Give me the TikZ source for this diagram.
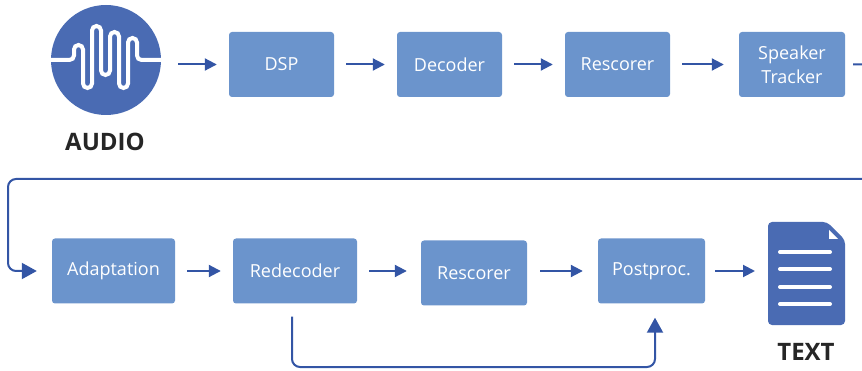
\documentclass[tikz,border=0pt]{standalone}
\usepackage{fontspec}
\setmainfont{Open Sans}
\usetikzlibrary{arrows.meta}
\definecolor{stagefill}{RGB}{107,148,204}
\definecolor{flowblue}{RGB}{51,85,165}
\definecolor{iconblue}{RGB}{74,107,179}
\begin{document}
\begin{tikzpicture}[x=1pt, y=-1pt,
  stage/.style={fill=stagefill, rounded corners=3pt, text=white, inner sep=0pt,
    minimum height=65pt, align=center, font=\fontsize{18}{24}\selectfont},
  flow/.style={draw=flowblue, line width=2pt, -{Triangle[length=12pt,width=12pt]},
    shorten <=12pt, shorten >=12pt},
  back/.style={draw=flowblue, line width=2pt, rounded corners=8pt,
    -{Triangle[length=15pt,width=16pt]}},
  biglabel/.style={font=\fontsize{24}{28}\selectfont\bfseries, text=black!85}]
\useasboundingbox (0,0) rectangle (862,371);
% audio icon
\node [circle, fill=iconblue, minimum size=110pt, inner sep=0pt] (audio) at (106,60) {};
\begin{scope}
\clip (106,60) circle (55pt);
\draw [white, line width=4pt, rounded corners=4.5pt] (40,60) -- (74,60) -- (74,45) -- (83,45)
  -- (83,88) -- (92,88) -- (92,26) -- (101,26) -- (101,75) -- (110,75) -- (110,32)
  -- (119,32) -- (119,88) -- (128,88) -- (128,38) -- (137,38) -- (137,60) -- (175,60);
\end{scope}
\node [biglabel] (audiolbl) at (105,142) {AUDIO};
% first row
\node [stage, minimum width=105pt] (dsp) at (281.5,64.5) {DSP};
\node [stage, minimum width=105pt] (dec) at (449.5,64.5) {Decoder};
\node [stage, minimum width=105pt] (rsc1) at (617.5,64.5) {Rescorer};
\node [stage, minimum width=106pt] (spk) at (792,64.5) {Speaker\\Tracker};
\draw [flow, shorten <=17pt] (audio.east |- dsp.west) -- (dsp.west);
\draw [flow] (dsp) -- (dec);
\draw [flow] (dec) -- (rsc1);
\draw [flow, shorten >=15pt] (rsc1) -- (spk);
% second row
\node [stage, minimum width=123pt] (adapt) at (113.5,271) {Adaptation};
\node [stage, minimum width=124pt] (redec) at (295,271) {Redecoder};
\node [stage, minimum width=106pt] (rsc2) at (474,273) {Rescorer};
\node [stage, minimum width=107pt] (post) at (651.5,271) {Postproc.};
\draw [flow] (adapt) -- (redec);
\draw [flow, shorten >=14pt] (redec.east) -- (redec.east -| rsc2.west);
\draw [flow, shorten <=13pt, shorten >=15pt] (rsc2.east |- post.west) -- (post.west);
% text icon
\fill [iconblue, rounded corners=4pt] (768,222) -- (827,222) -- (845,240) -- (845,325)
  -- (768,325) -- cycle;
\fill [white] (829,230) -- (829,239) -- (838,239) -- cycle;
\foreach \y in {252,269,287,304}
  \draw [white, line width=4pt, line cap=round] (780,\y) -- (830,\y);
\coordinate (doc) at (768,271);
\node [biglabel] (textlbl) at (806,352) {TEXT};
\draw [flow, shorten <=10pt, shorten >=13pt] (post.east) -- (doc);
% return connectors
\draw [back, shorten <=8pt, shorten >=15pt] (spk.east) -- ++(40,0) -- ++(0,114.5)
  -- (8,179) -- (8,271) -- (adapt.west);
\coordinate (low) at (0,367);
\draw [back, shorten <=13pt, shorten >=14pt] ([xshift=-3pt]redec.south)
  -- ([xshift=-3pt]redec.south |- low) -| ([xshift=3.5pt]post.south);
\end{tikzpicture}
\end{document}
